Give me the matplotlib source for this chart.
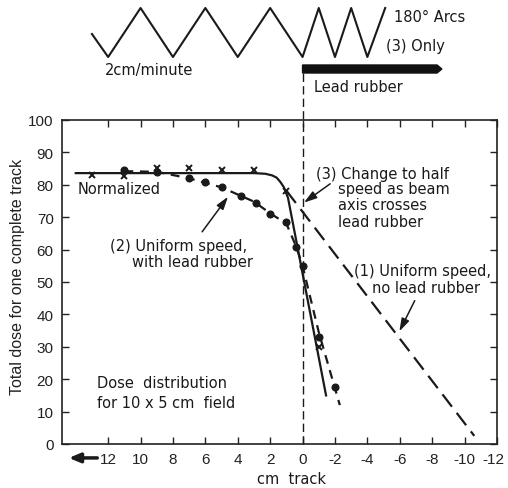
import matplotlib
matplotlib.use("Agg")
import matplotlib.pyplot as plt
from matplotlib.transforms import ScaledTranslation

plt.rcParams["font.family"] = ["Liberation Sans", "DejaVu Sans"]
plt.rcParams["font.size"] = 11
NOTE = dict(family=["DejaVu Sans"], fontsize=10.5, color="#1a1a1a")

# (3) half speed over lead rubber: measured crosses + solid curve
cross_x = [13, 11, 9, 7, 5, 3, 1, -1]
cross_y = [83.0, 82.7, 85.3, 85.3, 84.6, 84.6, 78.2, 30.0]
curve3_x = [14.0, 3.0, 2.3, 1.88, 1.6, 1.36, 1.15, 0.9, -1.45]
curve3_y = [83.6, 83.6, 83.4, 82.9, 82.2, 80.8, 79.2, 76.0, 15.0]

# (2) uniform speed with lead rubber: dots + short-dashed curve
dot_x = [11, 9, 7, 6, 5, 3.8, 2.9, 2.0, 1.0, 0.4, 0.0, -1.0, -2.0]
dot_y = [84.7, 83.8, 82.0, 80.8, 79.2, 76.4, 74.4, 71.0, 68.4, 60.7, 54.8, 33.0, 17.5]
curve2_x = [11, 9, 7, 5, 3, 2, 1, 0.4, 0, -1, -2.3]
curve2_y = [84.2, 84.0, 82.0, 79.2, 74.8, 71.2, 68.0, 61.0, 55.0, 34.5, 12.0]

# (1) uniform speed, no lead rubber: long-dashed line
curve1_x = [1.0, -10.6]
curve1_y = [78.2, 2.5]

x_ticks = [12, 10, 8, 6, 4, 2, 0, -2, -4, -6, -8, -10, -12]
y_ticks = [0, 10, 20, 30, 40, 50, 60, 70, 80, 90, 100]

# schematic of the arcs above the chart (x in cm track, y in pixel rows of the strip)
zig_x = [13, 12, 10, 8, 6, 4, 2, 0, -1, -2, -3, -4, -5.1]
zig_y = [35, 58, 9, 58, 9, 58, 9, 58, 9, 58, 9, 58, 9]
rubber_x = [0, -8.3, -8.6, -8.3, 0]
rubber_y = [66, 66, 70, 74, 74]

fig = plt.figure(figsize=(5.08, 4.89), dpi=100)
fig.patch.set_facecolor("white")
ax = fig.add_axes([0.1220, 0.0900, 0.8563, 0.6626])
ax_top = fig.add_axes([0.1220, 1 - 100 / 489, 0.8563, 100 / 489])

ax.set_xlim(14.85, -12.0)
ax.set_ylim(0, 100)
ax.set_xticks(x_ticks)
ax.set_xticklabels([str(t) for t in x_ticks])
ax.set_yticks(y_ticks)
ax.tick_params(direction="in", length=5, width=1, top=True, right=True,
               labelsize=11, pad=6, colors="#222222")
for sp in ax.spines.values():
    sp.set_linewidth(1.2)
    sp.set_color("#222222")
# keep the last tick label inside the picture
last = ax.get_xticklabels()[-1]
last.set_transform(last.get_transform() + ScaledTranslation(-4 / 100, 0, fig.dpi_scale_trans))

# curves
ax.plot(curve3_x, curve3_y, color="#1a1a1a", lw=1.6)
ax.plot(cross_x, cross_y, ls="none", marker="x", ms=5, mew=1.4, color="#1a1a1a")
ax.plot(curve2_x, curve2_y, color="#1a1a1a", lw=1.6, dashes=(4, 3))
ax.plot(dot_x, dot_y, ls="none", marker="o", ms=4.8, color="#1a1a1a")
ax.plot(curve1_x, curve1_y, color="#1a1a1a", lw=1.6, dashes=(7, 3.5))

# vertical dashed line at the lead rubber edge
ax.plot([0, 0], [0, 1.17], transform=ax.get_xaxis_transform(), clip_on=False,
        color="#1a1a1a", lw=1, dashes=(6, 3))

arrow = dict(arrowstyle="-|>,head_length=0.7,head_width=0.22", color="#1a1a1a", lw=1.1)
ax.text(13.87, 78.7, "Normalized", ha="left", va="center", **NOTE)
ax.text(11.9, 61.2, "(2) Uniform speed,", ha="left", va="center", **NOTE)
ax.text(10.55, 56.2, "with lead rubber", ha="left", va="center", **NOTE)
ax.annotate("", xy=(4.5, 77.0), xytext=(6.3, 64.8), arrowprops=arrow)

ax.text(-0.8, 83.6, "(3) Change to half", ha="left", va="center", **NOTE)
ax.text(-2.17, 78.7, "speed as beam", ha="left", va="center", **NOTE)
ax.text(-2.17, 73.8, "axis crosses", ha="left", va="center", **NOTE)
ax.text(-2.17, 68.6, "lead rubber", ha="left", va="center", **NOTE)
ax.annotate("", xy=(0.05, 74.0), xytext=(-1.84, 80.8), arrowprops=arrow)

ax.text(-3.2, 53.5, "(1) Uniform speed,", ha="left", va="center", **NOTE)
ax.text(-4.3, 48.4, "no lead rubber", ha="left", va="center", **NOTE)
ax.annotate("", xy=(-5.9, 34.0), xytext=(-7.0, 45.0), arrowprops=arrow)

ax.text(12.71, 19.0, "Dose  distribution", ha="left", va="center", **NOTE)
ax.text(12.71, 12.9, "for 10 x 5 cm  field", ha="left", va="center", **NOTE)

# axis labels
ax.set_ylabel("Total dose for one complete track", fontsize=11.5, color="#222222")
ax.yaxis.set_label_coords(-0.085, 0.519)
ax.text(0.71, -0.105, "cm  track", transform=ax.get_xaxis_transform(),
        ha="center", va="center", **NOTE)
ax.annotate("", xy=(14.6, -0.043), xytext=(12.5, -0.043),
            xycoords=ax.get_xaxis_transform(), textcoords=ax.get_xaxis_transform(),
            arrowprops=dict(arrowstyle="-|>,head_length=0.6,head_width=0.25",
                            color="#1a1a1a", lw=2.5),
            annotation_clip=False)

# top schematic
ax_top.set_xlim(14.85, -12.0)
ax_top.set_ylim(100, 0)
ax_top.axis("off")
ax_top.plot(zig_x, zig_y, color="#1a1a1a", lw=1.5)
ax_top.fill(rubber_x, rubber_y, color="#111111")
ax_top.text(-5.63, 18, "180° Arcs", ha="left", va="center", **NOTE)
ax_top.text(-5.14, 47, "(3) Only", ha="left", va="center", **NOTE)
ax_top.text(12.2, 70, "2cm/minute", ha="left", va="center", **NOTE)
ax_top.text(-0.68, 87, "Lead rubber", ha="left", va="center", **NOTE)

fig.savefig("out.png", dpi=100, facecolor="white")
